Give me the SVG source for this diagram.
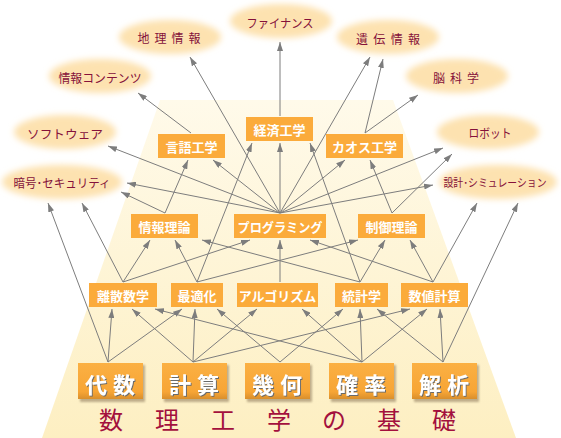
<svg xmlns="http://www.w3.org/2000/svg" width="561" height="438" viewBox="0 0 561 438">
<style>
.ell{fill:#fde2b0;filter:url(#soft)}
.et{font-family:"Noto Sans CJK JP","Noto Sans",sans-serif;font-size:12px;fill:#85113a;text-anchor:middle;dominant-baseline:central}
.box{fill:#fbab3b}
.bt{font-family:"Noto Sans CJK JP","Noto Sans",sans-serif;font-size:13px;font-weight:bold;fill:#ffffff;text-anchor:middle;dominant-baseline:central}
.base{fill:url(#bgrad)}
.bsh{fill:#8a7556;opacity:.55;filter:url(#bl)}
.b0{font-family:"Noto Sans CJK JP","Noto Sans",sans-serif;font-size:22px;font-weight:bold;fill:#ffffff;text-anchor:middle;dominant-baseline:central;filter:url(#emb)}
.title{font-family:"Noto Sans CJK JP","Noto Sans",sans-serif;font-size:24px;fill:#a3103d;text-anchor:middle;dominant-baseline:central}
#connectors line{stroke:#7d7d7d;stroke-width:1;fill:none;marker-end:url(#ah)}
</style>
<defs>
<filter id="soft" x="-20%" y="-40%" width="140%" height="180%"><feGaussianBlur stdDeviation="3.2"/></filter>
<filter id="bl" x="-10%" y="-20%" width="120%" height="140%"><feGaussianBlur stdDeviation="1"/></filter>
<filter id="emb" x="-10%" y="-10%" width="130%" height="130%"><feDropShadow dx="1" dy="1" stdDeviation="0.4" flood-color="#6a6a6a"/></filter>
<linearGradient id="trap" x1="0" y1="0" x2="0" y2="1">
<stop offset="0" stop-color="#fffaea"/>
<stop offset="1" stop-color="#fdefc2"/>
</linearGradient>
<linearGradient id="bgrad" x1="0" y1="0" x2="0" y2="1">
<stop offset="0" stop-color="#fbb043"/>
<stop offset="0.8" stop-color="#f7a535"/>
<stop offset="1" stop-color="#d98f2c"/>
</linearGradient>
<marker id="ah" viewBox="0 0 9 6" refX="9" refY="3" markerWidth="9" markerHeight="6" markerUnits="userSpaceOnUse" orient="auto">
<path d="M0,0 L9,3 L0,6 z" fill="#7d7d7d"/>
</marker>
</defs>

<rect width="561" height="438" fill="#ffffff"/>
<polygon points="160,100 393,100 516,438 42,438" fill="url(#trap)"/>

<!-- ellipses -->
<g id="n-finance"><ellipse class="ell" cx="281" cy="21" rx="51" ry="17"/><text class="et" x="280" y="22.5" textLength="67" lengthAdjust="spacingAndGlyphs">ファイナンス</text></g>
<g id="n-chiri"><ellipse class="ell" cx="170" cy="37" rx="51" ry="17"/><text class="et" x="169" y="37.5" textLength="63" lengthAdjust="spacing">地理情報</text></g>
<g id="n-iden"><ellipse class="ell" cx="388" cy="37" rx="51" ry="17"/><text class="et" x="388" y="38" textLength="64" lengthAdjust="spacing">遺伝情報</text></g>
<g id="n-contents"><ellipse class="ell" cx="100" cy="76" rx="51" ry="17"/><text class="et" x="100" y="77.5" textLength="83" lengthAdjust="spacingAndGlyphs">情報コンテンツ</text></g>
<g id="n-nou"><ellipse class="ell" cx="457" cy="76" rx="51" ry="17"/><text class="et" x="456" y="77" textLength="46" lengthAdjust="spacing">脳科学</text></g>
<g id="n-software"><ellipse class="ell" cx="65" cy="132" rx="51" ry="17"/><text class="et" x="65" y="133" textLength="76" lengthAdjust="spacingAndGlyphs">ソフトウェア</text></g>
<g id="n-robot"><ellipse class="ell" cx="488" cy="132" rx="51" ry="17"/><text class="et" x="490" y="132.5" textLength="43" lengthAdjust="spacingAndGlyphs">ロボット</text></g>
<g id="n-angou"><ellipse class="ell" cx="62" cy="182" rx="60" ry="17"/><text class="et" x="62" y="182.5" textLength="97" lengthAdjust="spacingAndGlyphs">暗号･セキュリティ</text></g>
<g id="n-sekkei"><ellipse class="ell" cx="498" cy="182" rx="59" ry="17"/><text class="et" x="495" y="181.5" style="font-size:11px" textLength="103" lengthAdjust="spacingAndGlyphs">設計･シミュレーション</text></g>

<!-- connectors -->
<g id="connectors">
<line x1="108" y1="362" x2="48" y2="203"/>
<line x1="108" y1="362" x2="112" y2="309"/>
<line x1="108" y1="362" x2="182" y2="309"/>
<line x1="193" y1="362" x2="132" y2="309"/>
<line x1="193" y1="362" x2="195" y2="309"/>
<line x1="193" y1="362" x2="257" y2="309"/>
<line x1="193" y1="362" x2="410" y2="309"/>
<line x1="280" y1="362" x2="217" y2="309"/>
<line x1="280" y1="362" x2="343" y2="309"/>
<line x1="362" y1="362" x2="155" y2="309"/>
<line x1="362" y1="362" x2="302" y2="309"/>
<line x1="362" y1="362" x2="360" y2="309"/>
<line x1="362" y1="362" x2="427" y2="309"/>
<line x1="443" y1="362" x2="377" y2="309"/>
<line x1="443" y1="362" x2="440" y2="309"/>
<line x1="443" y1="362" x2="518" y2="203"/>

<line x1="123" y1="282" x2="82" y2="203"/>
<line x1="123" y1="282" x2="150" y2="240"/>
<line x1="123" y1="282" x2="250" y2="240"/>
<line x1="197" y1="282" x2="175" y2="240"/>
<line x1="197" y1="282" x2="252" y2="143"/>
<line x1="197" y1="282" x2="358" y2="240"/>
<line x1="280" y1="282" x2="280" y2="240"/>
<line x1="360" y1="282" x2="202" y2="240"/>
<line x1="360" y1="282" x2="310" y2="143"/>
<line x1="360" y1="282" x2="385" y2="240"/>
<line x1="433" y1="282" x2="310" y2="240"/>
<line x1="433" y1="282" x2="410" y2="240"/>
<line x1="433" y1="282" x2="477" y2="203"/>

<line x1="165" y1="213" x2="121" y2="192"/>
<line x1="165" y1="213" x2="188" y2="160"/>
<line x1="280" y1="213" x2="108" y2="146"/>
<line x1="280" y1="213" x2="127" y2="183"/>
<line x1="280" y1="213" x2="213" y2="160"/>
<line x1="280" y1="213" x2="190" y2="57"/>
<line x1="280" y1="213" x2="280" y2="143"/>
<line x1="280" y1="213" x2="370" y2="57"/>
<line x1="280" y1="213" x2="345" y2="160"/>
<line x1="280" y1="213" x2="443" y2="148"/>
<line x1="280" y1="213" x2="433" y2="185"/>
<line x1="392" y1="213" x2="370" y2="160"/>
<line x1="392" y1="213" x2="452" y2="154"/>

<line x1="191" y1="133" x2="138" y2="93"/>
<line x1="280" y1="116" x2="280" y2="42"/>
<line x1="365" y1="133" x2="383" y2="59"/>
<line x1="365" y1="133" x2="418" y2="95"/>
</g>

<!-- level 3 -->
<g id="n-gengo"><rect class="box" x="158" y="134" width="67" height="24"/><text class="bt" x="191.5" y="146.5">言語工学</text></g>
<g id="n-keizai"><rect class="box" x="246" y="117" width="67" height="24"/><text class="bt" x="279.5" y="129.5">経済工学</text></g>
<g id="n-chaos"><rect class="box" x="326" y="134" width="77" height="24"/><text class="bt" x="364.5" y="146.5">カオス工学</text></g>

<!-- level 2 -->
<g id="n-jouhou"><rect class="box" x="131" y="214" width="67" height="24"/><text class="bt" x="164.5" y="226.5">情報理論</text></g>
<g id="n-prog"><rect class="box" x="234" y="214" width="92" height="24"/><text class="bt" x="280" y="226.5" textLength="85" lengthAdjust="spacingAndGlyphs">プログラミング</text></g>
<g id="n-seigyo"><rect class="box" x="358" y="214" width="67" height="24"/><text class="bt" x="391.5" y="226.5">制御理論</text></g>

<!-- level 1 -->
<g id="n-risan"><rect class="box" x="89" y="283" width="68" height="24"/><text class="bt" x="123" y="295.5">離散数学</text></g>
<g id="n-saiteki"><rect class="box" x="171" y="283" width="52" height="24"/><text class="bt" x="197" y="295.5">最適化</text></g>
<g id="n-algo"><rect class="box" x="237" y="283" width="81" height="24"/><text class="bt" x="277.5" y="295.5">アルゴリズム</text></g>
<g id="n-toukei"><rect class="box" x="335" y="283" width="53" height="24"/><text class="bt" x="361.5" y="295.5">統計学</text></g>
<g id="n-suuchi"><rect class="box" x="401" y="283" width="67" height="24"/><text class="bt" x="434.5" y="295.5">数値計算</text></g>

<!-- level 0 -->
<g id="n-daisuu"><rect class="bsh" x="80" y="365" width="65" height="37"/><rect class="base" x="78" y="363" width="65" height="36"/><text class="b0" x="96" y="382.5">代</text><text class="b0" x="124" y="382.5">数</text></g>
<g id="n-keisan"><rect class="bsh" x="164" y="365" width="65" height="37"/><rect class="base" x="162" y="363" width="65" height="36"/><text class="b0" x="180" y="382.5">計</text><text class="b0" x="208" y="382.5">算</text></g>
<g id="n-kika"><rect class="bsh" x="247" y="365" width="65" height="37"/><rect class="base" x="245" y="363" width="65" height="36"/><text class="b0" x="263" y="382.5">幾</text><text class="b0" x="291" y="382.5">何</text></g>
<g id="n-kakuritsu"><rect class="bsh" x="331" y="365" width="65" height="37"/><rect class="base" x="329" y="363" width="65" height="36"/><text class="b0" x="347" y="382.5">確</text><text class="b0" x="375" y="382.5">率</text></g>
<g id="n-kaiseki"><rect class="bsh" x="414" y="365" width="65" height="37"/><rect class="base" x="412" y="363" width="65" height="36"/><text class="b0" x="430" y="382.5">解</text><text class="b0" x="458" y="382.5">析</text></g>

<!-- title -->
<g id="title">
<text class="title" x="111" y="418.5">数</text>
<text class="title" x="167" y="418.5">理</text>
<text class="title" x="223" y="418.5">工</text>
<text class="title" x="279" y="418.5">学</text>
<text class="title" x="334" y="418.5">の</text>
<text class="title" x="389" y="418.5">基</text>
<text class="title" x="444" y="418.5">礎</text>
</g>
</svg>
